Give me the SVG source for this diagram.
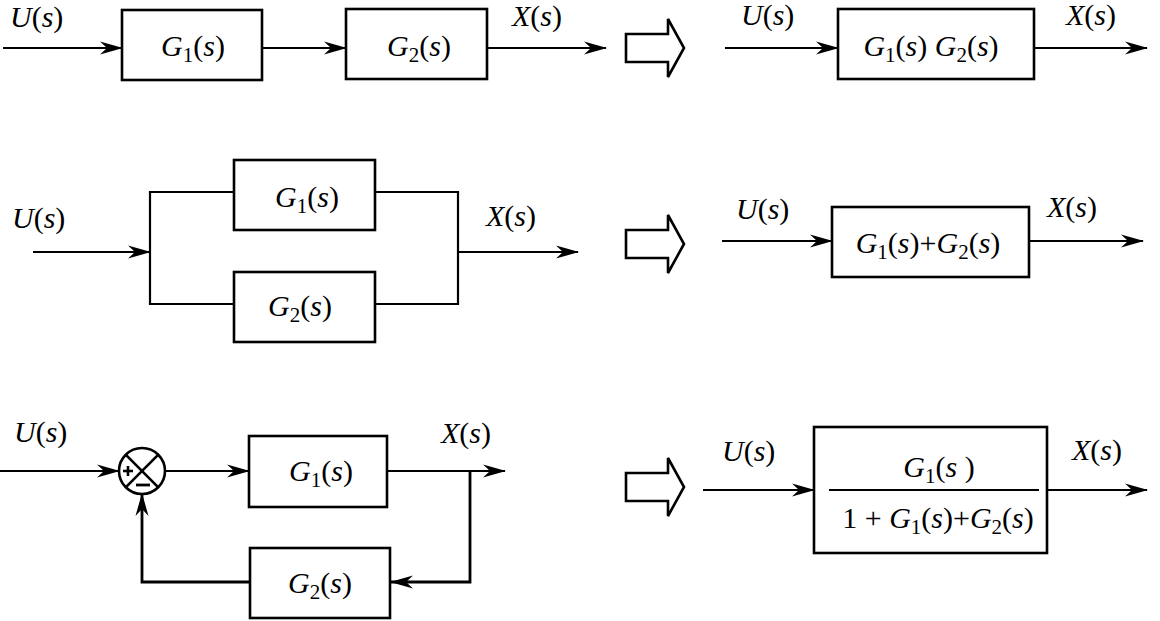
<svg xmlns="http://www.w3.org/2000/svg" width="1160" height="621" viewBox="0 0 1160 621" font-family="Times New Roman, Liberation Serif, serif" font-size="30">
<defs>
  <marker id="ah" viewBox="-24 -8 26 16" refX="0" refY="0" markerWidth="26" markerHeight="16" orient="auto" markerUnits="userSpaceOnUse">
    <path d="M1,0 L-22,-6.5 L-15,0 L-22,6.5 Z" fill="#000"/>
  </marker>
</defs>
<g id="connectors" fill="none" stroke="#000" stroke-width="2.2">
  <line x1="3" y1="48" x2="122" y2="48" marker-end="url(#ah)"/>
  <line x1="262" y1="48" x2="346" y2="48" marker-end="url(#ah)"/>
  <line x1="487" y1="48" x2="606" y2="48" marker-end="url(#ah)"/>
  <line x1="725" y1="48" x2="838" y2="48" marker-end="url(#ah)"/>
  <line x1="1034" y1="48" x2="1147" y2="48" marker-end="url(#ah)"/>
  <line x1="33" y1="252" x2="150" y2="252" marker-end="url(#ah)"/>
  <polyline points="234,192 150,192 150,304 234,304"/>
  <polyline points="375,192 458,192 458,304 375,304"/>
  <line x1="458" y1="252" x2="578" y2="252" marker-end="url(#ah)"/>
  <line x1="722" y1="241" x2="832" y2="241" marker-end="url(#ah)"/>
  <line x1="1029" y1="241" x2="1143" y2="241" marker-end="url(#ah)"/>
  <line x1="0" y1="471" x2="119" y2="471" marker-end="url(#ah)"/>
  <line x1="165" y1="471" x2="249" y2="471" marker-end="url(#ah)"/>
  <line x1="387" y1="471" x2="505" y2="471" marker-end="url(#ah)"/>
  <polyline points="470,471 470,582 391,582" stroke-width="2.8" marker-end="url(#ah)"/>
  <polyline points="250,582 142,582 142,494" stroke-width="2.8" marker-end="url(#ah)"/>
  <line x1="703" y1="490" x2="814" y2="490" marker-end="url(#ah)"/>
  <line x1="1047" y1="490" x2="1147" y2="490" marker-end="url(#ah)"/>
</g>
<g id="labels">
  <text x="10" y="27"><tspan font-style="italic">U</tspan>(<tspan font-style="italic">s</tspan>)</text>
  <text x="512" y="26"><tspan font-style="italic">X</tspan>(<tspan font-style="italic">s</tspan>)</text>
  <text x="741" y="25"><tspan font-style="italic">U</tspan>(<tspan font-style="italic">s</tspan>)</text>
  <text x="1066" y="25"><tspan font-style="italic">X</tspan>(<tspan font-style="italic">s</tspan>)</text>
  <text x="12" y="228"><tspan font-style="italic">U</tspan>(<tspan font-style="italic">s</tspan>)</text>
  <text x="486" y="226"><tspan font-style="italic">X</tspan>(<tspan font-style="italic">s</tspan>)</text>
  <text x="736" y="219"><tspan font-style="italic">U</tspan>(<tspan font-style="italic">s</tspan>)</text>
  <text x="1047" y="217"><tspan font-style="italic">X</tspan>(<tspan font-style="italic">s</tspan>)</text>
  <text x="14" y="442"><tspan font-style="italic">U</tspan>(<tspan font-style="italic">s</tspan>)</text>
  <text x="441" y="443"><tspan font-style="italic">X</tspan>(<tspan font-style="italic">s</tspan>)</text>
  <text x="722" y="461"><tspan font-style="italic">U</tspan>(<tspan font-style="italic">s</tspan>)</text>
  <text x="1072" y="460"><tspan font-style="italic">X</tspan>(<tspan font-style="italic">s</tspan>)</text>
</g>
<g id="r1-g1">
  <rect x="122" y="10" width="140" height="70" fill="#fff" stroke="#000" stroke-width="2.6"/>
  <text x="193" y="56" text-anchor="middle"><tspan font-style="italic">G</tspan><tspan dy="6" font-size="21">1</tspan><tspan dy="-6">(</tspan><tspan font-style="italic">s</tspan>)</text>
</g>
<g id="r1-g2">
  <rect x="346" y="9" width="141" height="70" fill="#fff" stroke="#000" stroke-width="2.6"/>
  <text x="419" y="56" text-anchor="middle"><tspan font-style="italic">G</tspan><tspan dy="6" font-size="21">2</tspan><tspan dy="-6">(</tspan><tspan font-style="italic">s</tspan>)</text>
</g>
<g id="r1-arrow">
  <polygon points="626,34 668,34 668,19 684,48 668,77 668,62 626,62" fill="#fff" stroke="#000" stroke-width="2.6"/>
</g>
<g id="r1-product">
  <rect x="838" y="9" width="196" height="70" fill="#fff" stroke="#000" stroke-width="2.6"/>
  <text x="931" y="56" text-anchor="middle"><tspan font-style="italic">G</tspan><tspan dy="6" font-size="21">1</tspan><tspan dy="-6">(</tspan><tspan font-style="italic">s</tspan>) <tspan font-style="italic">G</tspan><tspan dy="6" font-size="21">2</tspan><tspan dy="-6">(</tspan><tspan font-style="italic">s</tspan>)</text>
</g>
<g id="r2-g1">
  <rect x="234" y="160" width="141" height="70" fill="#fff" stroke="#000" stroke-width="2.6"/>
  <text x="307" y="207" text-anchor="middle"><tspan font-style="italic">G</tspan><tspan dy="6" font-size="21">1</tspan><tspan dy="-6">(</tspan><tspan font-style="italic">s</tspan>)</text>
</g>
<g id="r2-g2">
  <rect x="234" y="272" width="141" height="70" fill="#fff" stroke="#000" stroke-width="2.6"/>
  <text x="300" y="316" text-anchor="middle"><tspan font-style="italic">G</tspan><tspan dy="6" font-size="21">2</tspan><tspan dy="-6">(</tspan><tspan font-style="italic">s</tspan>)</text>
</g>
<g id="r2-arrow">
  <polygon points="626,230 668,230 668,215 684,244 668,273 668,258 626,258" fill="#fff" stroke="#000" stroke-width="2.6"/>
</g>
<g id="r2-sum">
  <rect x="832" y="207" width="197" height="70" fill="#fff" stroke="#000" stroke-width="2.6"/>
  <text x="928" y="253" text-anchor="middle"><tspan font-style="italic">G</tspan><tspan dy="6" font-size="21">1</tspan><tspan dy="-6">(</tspan><tspan font-style="italic">s</tspan>)+<tspan font-style="italic">G</tspan><tspan dy="6" font-size="21">2</tspan><tspan dy="-6">(</tspan><tspan font-style="italic">s</tspan>)</text>
</g>
<g id="r3-junction" stroke="#000" stroke-width="2.6">
  <circle cx="142" cy="471" r="23" fill="#fff"/>
  <line x1="125.7" y1="454.7" x2="158.3" y2="487.3"/>
  <line x1="158.3" y1="454.7" x2="125.7" y2="487.3"/>
  <line x1="123" y1="471" x2="133" y2="471"/>
  <line x1="128" y1="466" x2="128" y2="476"/>
  <line x1="136" y1="485" x2="150" y2="485" stroke-width="2.8"/>
</g>
<g id="r3-g1">
  <rect x="249" y="436" width="138" height="71" fill="#fff" stroke="#000" stroke-width="2.6"/>
  <text x="321" y="481" text-anchor="middle"><tspan font-style="italic">G</tspan><tspan dy="6" font-size="21">1</tspan><tspan dy="-6">(</tspan><tspan font-style="italic">s</tspan>)</text>
</g>
<g id="r3-g2">
  <rect x="250" y="548" width="140" height="70" fill="#fff" stroke="#000" stroke-width="2.6"/>
  <text x="320" y="593" text-anchor="middle"><tspan font-style="italic">G</tspan><tspan dy="6" font-size="21">2</tspan><tspan dy="-6">(</tspan><tspan font-style="italic">s</tspan>)</text>
</g>
<g id="r3-arrow">
  <polygon points="626,473 668,473 668,458 684,487 668,516 668,501 626,501" fill="#fff" stroke="#000" stroke-width="2.6"/>
</g>
<g id="r3-closed">
  <rect x="814" y="427" width="233" height="126" fill="#fff" stroke="#000" stroke-width="2.6"/>
  <text x="939" y="477" text-anchor="middle"><tspan font-style="italic">G</tspan><tspan dy="6" font-size="21">1</tspan><tspan dy="-6">(</tspan><tspan font-style="italic">s</tspan> )</text>
  <line x1="829" y1="490" x2="1039" y2="490" stroke="#000" stroke-width="2.2"/>
  <text x="938" y="528" text-anchor="middle">1 + <tspan font-style="italic">G</tspan><tspan dy="6" font-size="21">1</tspan><tspan dy="-6">(</tspan><tspan font-style="italic">s</tspan>)+<tspan font-style="italic">G</tspan><tspan dy="6" font-size="21">2</tspan><tspan dy="-6">(</tspan><tspan font-style="italic">s</tspan>)</text>
</g>
</svg>
